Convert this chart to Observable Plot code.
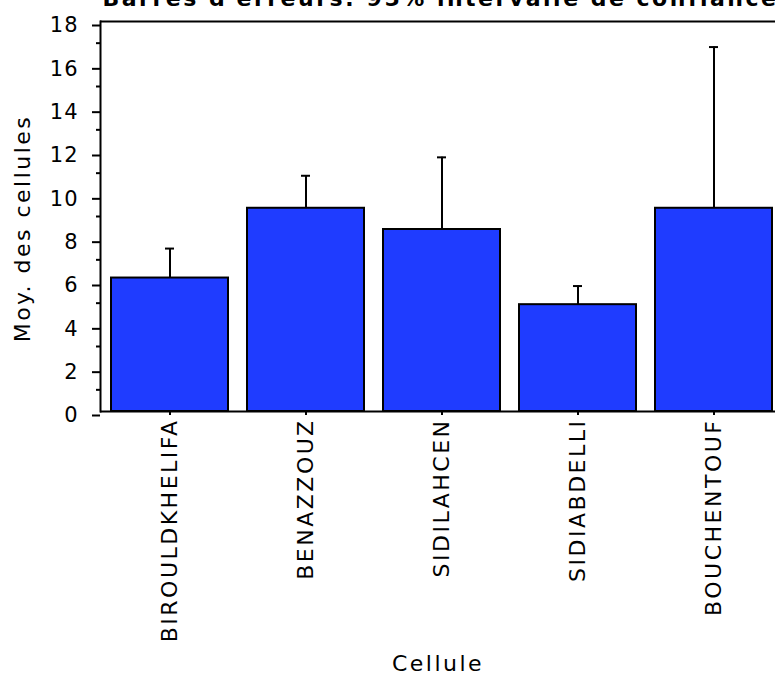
<!DOCTYPE html>
<html>
<head>
<meta charset="utf-8">
<script src="https://cdn.jsdelivr.net/npm/d3@7"></script>
<script src="https://cdn.jsdelivr.net/npm/@observablehq/plot@0.6"></script>
<style>
  html, body { margin: 0; padding: 0; background: #fff; }
  #chart { width: 775px; height: 675px; overflow: hidden; }
</style>
</head>
<body>
<div id="chart"></div>
<script>
const categories = ["BIROULDKHELIFA", "BENAZZOUZ", "SIDILAHCEN", "SIDIABDELLI", "BOUCHENTOUF"];
const means = [6.16, 9.38, 8.40, 4.93, 9.38];
const upperLimits = [7.52, 10.88, 11.73, 5.79, 16.82];
const yMajorTicks = [0, 2, 4, 6, 8, 10, 12, 14, 16, 18];
const yMinorTicks = [1, 3, 5, 7, 9, 11, 13, 15, 17];
const title = "Barres d'erreurs: 95% intervalle de confiance";
const yLabel = "Moy. des cellules";
const xLabel = "Cellule";

const rows = categories.map((c, i) => ({cellule: c, mean: means[i], upper: upperLimits[i]}));

const plot = Plot.plot({
  width: 775,
  height: 675,
  marginLeft: 100,
  marginRight: 0,
  marginTop: 21,
  marginBottom: 264,
  style: {fontFamily: "DejaVu Sans", background: "white", color: "black", overflow: "hidden", letterSpacing: "2.5px"},
  x: {domain: categories, paddingInner: 0.137, paddingOuter: 0.0366, align: 0.8, axis: null},
  y: {domain: [0, 18], axis: null},
  marks: [
    Plot.barY(rows, {x: "cellule", y: "mean", fill: "#1f3cff", stroke: "black", strokeWidth: 2}),
    Plot.ruleX(rows, {x: "cellule", y1: "mean", y2: "upper", stroke: "black", strokeWidth: 2}),
    Plot.tickY(rows, {x: "cellule", y: "upper", stroke: "black", strokeWidth: 2, insetLeft: 54, insetRight: 54}),
    Plot.ruleY([0], {stroke: "black", strokeWidth: 2}),
    Plot.ruleY([18], {stroke: "black", strokeWidth: 2}),
    Plot.frame({anchor: "left", stroke: "black", strokeWidth: 2}),
    Plot.axisY({ticks: yMajorTicks, tickSize: 8, tickPadding: 14, fontSize: 21, tickFormat: d => String(d), label: null, strokeWidth: 2, dy: 4}),
    Plot.axisY({ticks: yMinorTicks, tickSize: 4, tickFormat: () => "", label: null, strokeWidth: 2}),
    Plot.axisX({tickSize: 4, tickRotate: -90, tickPadding: 3, fontSize: 22, label: null, strokeWidth: 2}),
    Plot.text([yLabel], {frameAnchor: "left", textAnchor: "middle", rotate: -90, dx: -78, dy: 12, fontSize: 22}),
    Plot.text([xLabel], {frameAnchor: "bottom", dy: 259, fontSize: 22}),
    Plot.text([title], {frameAnchor: "top-left", textAnchor: "start", lineAnchor: "bottom", dx: 2, dy: -16, fontSize: 22, fontWeight: "bold"})
  ]
});

d3.select(plot).selectAll('g[aria-label="y-axis tick label"] text').style("letter-spacing", "1px");
document.getElementById("chart").appendChild(plot);
</script>
</body>
</html>
